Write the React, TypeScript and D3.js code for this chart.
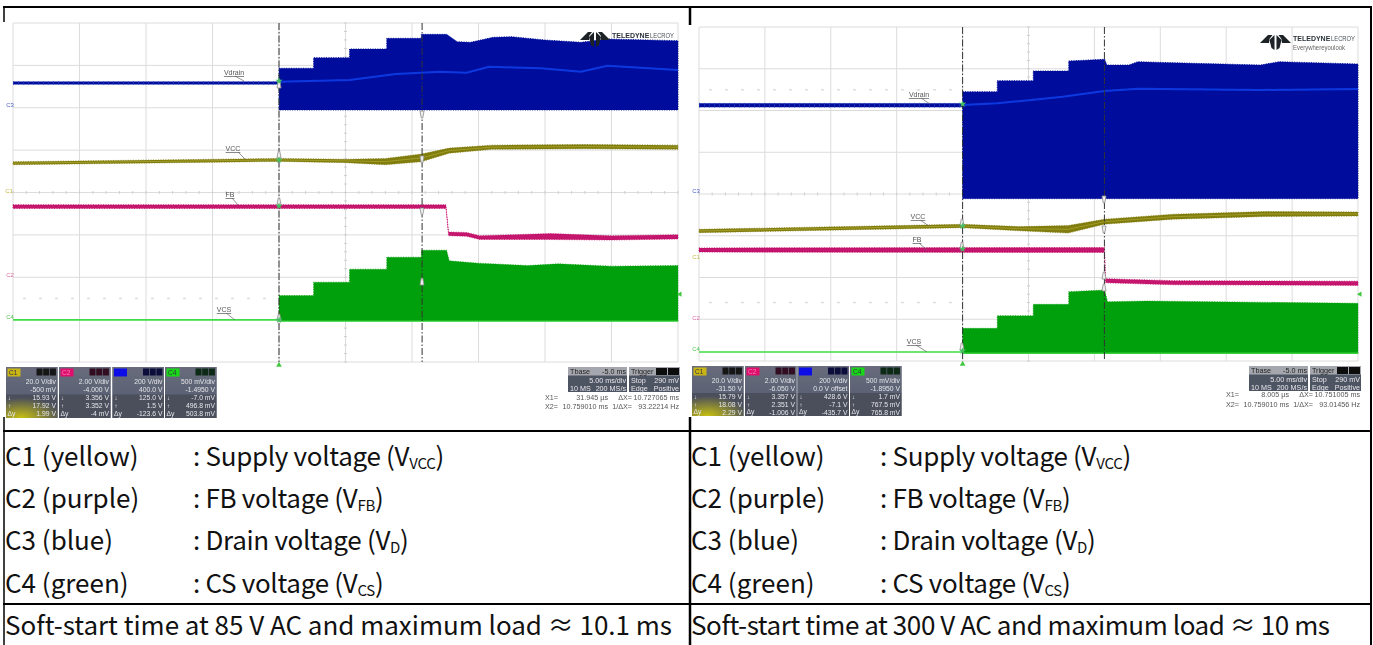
import React from "react";
import * as d3 from "d3";

type P = [number, number];
type B = [number, number, number];

// time in ms, vertical position in screen divisions from top of graticule
const aDrainUpper: P[] = [[0,1.068],[2.6,1.068],[2.6,0.818],[5.3,0.818],[5.3,0.613],[8.1,0.613],[8.1,0.361],[10.7,0.361],[10.7,0.267],[12.6,0.267],[13.4,0.441],[14.4,0.455],[16.1,0.337],[17.5,0.323],[20,0.401],[22.7,0.455],[24.7,0.377],[30,0.417]];
const aDrainLower: P[] = [[0,2.052],[30,2.052]];
const aDrainInner: P[] = [[0,1.384],[5.3,1.344],[8.8,1.203],[12.1,1.149],[14.1,1.172],[15.8,1.031],[19.7,1.068],[22.7,1.149],[24.7,1.007],[30,1.108]];
const aDrainFlat: P[] = [[-20,1.415],[0,1.415]];
const aVcc: B[] = [[-20,3.309,0.035],[0,3.231,0.035],[5,3.255,0.04],[8,3.271,0.075],[10.7,3.184,0.09],[12.8,3.012,0.06],[16,2.932,0.05],[23,2.917,0.05],[30,2.932,0.05]];
const aFb: B[] = [[-20,4.333,0.045],[12.55,4.333,0.045],[12.75,4.976,0.045],[14.1,4.988,0.045],[15.1,5.064,0.045],[20.4,5.04,0.07],[25,5.071,0.05],[30,5.047,0.05]];
const aCsUpper: P[] = [[0,6.432],[2.6,6.432],[2.6,6.116],[5.3,6.116],[5.3,5.809],[8.1,5.809],[8.1,5.526],[10.7,5.526],[10.7,5.361],[12.6,5.361],[12.8,5.613],[15,5.667],[18.7,5.724],[21,5.684],[25,5.738],[30,5.724]];
const aCsLower: P[] = [[0,7.035],[30,7.035]];
const aCsFlat: P[] = [[-20,7.005],[0,7.005]];

const bDrainUpper: P[] = [[0,1.55],[2.63,1.55],[2.63,1.286],[5.36,1.286],[5.36,1.054],[8.05,1.054],[8.05,0.814],[10.78,0.773],[10.95,0.91],[12.6,0.91],[13.3,0.831],[17.5,0.869],[22.6,0.91],[24,0.831],[30,0.886]];
const bDrainLower: P[] = [[0,4.112],[30,4.112]];
const bDrainInner: P[] = [[0,1.868],[2.63,1.828],[7.6,1.67],[10.76,1.533],[13.3,1.478],[22.6,1.509],[30,1.485]];
const bDrainFlat: P[] = [[-20,1.875],[0,1.875]];
const bVcc: B[] = [[-20,4.886,0.04],[0,4.766,0.04],[4.3,4.831,0.05],[8,4.846,0.09],[10.76,4.663,0.06],[16,4.544,0.06],[23,4.479,0.06],[30,4.479,0.05]];
const bFb: B[] = [[-20,5.341,0.05],[10.76,5.341,0.06],[10.85,6.077,0.05],[16,6.125,0.05],[30,6.139,0.05]];
const bCsUpper: P[] = [[0,7.217],[2.63,7.217],[2.63,6.915],[5.36,6.915],[5.36,6.642],[8.05,6.642],[8.05,6.34],[10.78,6.3],[11,6.58],[14,6.563],[30,6.618]];
const bCsLower: P[] = [[0,7.816],[30,7.816]];
const bCsFlat: P[] = [[-20,7.784],[0,7.784]];

const aReadouts = [
  ["C1", "20.0 V/div", "-500 mV", "15.93 V", "17.92 V", "1.99 V"],
  ["C2", "2.00 V/div", "-4.000 V", "3.356 V", "3.352 V", "-4 mV"],
  ["C3", "200 V/div", "400.0 V", "125.0 V", "1.5 V", "-123.6 V"],
  ["C4", "500 mV/div", "-1.4950 V", "-7.0 mV", "496.8 mV", "503.8 mV"],
];
const bReadouts = [
  ["C1", "20.0 V/div", "-31.50 V", "15.79 V", "18.08 V", "2.29 V"],
  ["C2", "2.00 V/div", "-6.050 V", "3.357 V", "2.351 V", "-1.006 V"],
  ["C3", "200 V/div", "0.0 V offset", "428.6 V", "-7.1 V", "-435.7 V"],
  ["C4", "500 mV/div", "-1.8950 V", "1.7 mV", "767.5 mV", "765.8 mV"],
];
const chipColors = ["#c9b512", "#e0106e", "#1010e8", "#18d818"];
const aCursor = ["X1=", "31.945 µs", "ΔX=", "10.727065 ms", "X2=", "10.759010 ms", "1/ΔX=", "93.22214 Hz"];
const bCursor = ["X1=", "8.005 µs", "ΔX=", "10.751005 ms", "X2=", "10.759010 ms", "1/ΔX=", "93.01456 Hz"];

const legendNames = ["C1 (yellow)", "C2 (purple)", "C3 (blue)", "C4 (green)"];
const legendDesc = [": Supply voltage (V", ": FB voltage (V", ": Drain voltage (V", ": CS voltage (V"];
const legendSubs = ["VCC", "FB", "D", "CS"];
const captions = ["Soft-start time at 85 V AC and maximum load ≈ 10.1 ms", "Soft-start time at 300 V AC and maximum load ≈ 10 ms"];

const xDivs = d3.range(0, 11);
const yDivs = d3.range(0, 9);
const centerTicks = d3.range(0, 50.01, 1);
const centerTicksY = d3.range(0, 8.01, 0.2);

const BLUE = "#000f9c";
const OLIVE = "#807c0c";
const MAGENTA = "#c4126c";
const GREEN = "#01a00a";
const SANS = "'Liberation Sans', Arial, sans-serif";
const CJK = "'Noto Sans CJK JP', 'Noto Sans', sans-serif";

function fuzzArea(x: any, y: any, up: P[], low: P[]) {
  return d3.area<P>().x((d) => x(d[0])).y0(() => y(low[0][1])).y1((d) => y(d[1]))(up) as string;
}
function band(x: any, y: any, d: B[]) {
  return d3.area<B>().x((p) => x(p[0])).y0((p) => y(p[1] + p[2])).y1((p) => y(p[1] - p[2]))(d) as string;
}

function Pin({ x, y, flip }: { x: number; y: number; flip?: boolean }) {
  const s = flip ? -1 : 1;
  return (
    <g stroke="#8a8a8a" strokeWidth={0.8} fill="#f0f0f0">
      <path d={`M${x - 2},${y} L${x + 2},${y} L${x + 1.5},${y + 3 * s} L${x + 0.7},${y + 7 * s} L${x - 0.7},${y + 7 * s} L${x - 1.5},${y + 3 * s} Z`} />
    </g>
  );
}

function Logo({ x, y, w, sub }: { x: number; y: number; w: number; sub: boolean }) {
  const m = w / 2;
  return (
    <g>
      <path d={`M${x},${y + 8} L${x + 8},${y} L${x + m - 3},${y} L${x + m - 6},${y + 4} L${x + 9},${y + 8} Z`} fill="#1a2226" />
      <path d={`M${x + w},${y + 8} L${x + w - 8},${y} L${x + m + 3},${y} L${x + m + 6},${y + 4} L${x + w - 9},${y + 8} Z`} fill="#1a2226" />
      <path d={`M${x + m - 6},${y + 5} L${x + m - 1},${y} L${x + m - 1},${y + 11} L${x + m - 1},${y + 15} L${x + m - 4},${y + 13} Z`} fill="#1a2226" />
      <path d={`M${x + m + 6},${y + 5} L${x + m + 1},${y} L${x + m + 1},${y + 11} L${x + m + 1},${y + 15} L${x + m + 4},${y + 13} Z`} fill="#1a2226" />
      <text x={x + w + 2} y={y + 6} fontFamily={SANS} fontSize={7} fontWeight="bold" fill="#2a3238">TELEDYNE</text>
      <text x={x + w + 40} y={y + 6} fontFamily={SANS} fontSize={7} fill="#4a5258" textLength={24} lengthAdjust="spacingAndGlyphs">LECROY</text>
      {sub && (
        <text x={x + w + 2} y={y + 14.5} fontFamily={SANS} fontSize={7} fill="#666" textLength={52} lengthAdjust="spacingAndGlyphs">Everywhereyoulook</text>
      )}
    </g>
  );
}

function Readout({ x, y, w, h, vals, color, idx, id }: any) {
  return (
    <g>
      <rect x={x} y={y} width={w} height={h} fill="#5b6070" />
      <rect x={x} y={y} width={w} height={h * 0.54} fill={`url(#${id}t)`} />
      <rect x={x} y={y + h * 0.54} width={w} height={h * 0.46} fill="#4b4f5c" />
      {idx === 0 && <rect x={x} y={y + h * 0.5} width={w} height={h * 0.5} fill={`url(#${id}g)`} />}
      <rect x={x + 1.5} y={y + 1.5} width={13} height={8} fill={color} />
      {idx !== 2 && <text x={x + 3} y={y + 8} fontFamily={SANS} fontSize={6.5} fill={idx === 1 ? "#f080b0" : "#334"}>{vals[0]}</text>}
      {[0, 1, 2].map((k) => (
        <rect key={k} x={x + w - 21 + k * 6.7} y={y + 1.5} width={6} height={7} fill={idx === 1 ? "#301020" : idx === 2 ? "#0a0a3a" : idx === 3 ? "#0a2a12" : "#141414"} />
      ))}
      {vals.slice(1).map((v: string, i: number) => (
        <text key={i} x={x + w - 1.5} y={y + 16.5 + i * 8.1} textAnchor="end" fontFamily={SANS} fontSize={6.8} fill="#e4e6ea">{v}</text>
      ))}
      <text x={x + 2} y={y + 33} fontFamily={SANS} fontSize={6} fill="#e4e6ea">↓</text>
      <text x={x + 2} y={y + 41} fontFamily={SANS} fontSize={6} fill="#e4e6ea">↑</text>
      <text x={x + 1.5} y={y + h - 2.5} fontFamily={SANS} fontSize={6.8} fill="#e4e6ea">Δy</text>
    </g>
  );
}

function Timebase({ x, y, cursor, rows }: any) {
  const t = { fontFamily: SANS, fontSize: 7.2 };
  const cols = [[-23, "start"], [40, "end"], [64, "end"], [111, "end"]];
  return (
    <g>
      <rect x={x} y={y} width={59} height={25} fill="#4e5464" />
      <rect x={x} y={y} width={59} height={8.5} fill="#a4a7ad" />
      <rect x={x + 61} y={y} width={51} height={25} fill="#4e5464" />
      <rect x={x + 61} y={y} width={51} height={8.5} fill="#a4a7ad" />
      <rect x={x + 88} y={y + 1} width={11} height={7} fill="#111" />
      <rect x={x + 100} y={y + 1} width={11} height={7} fill="#111" />
      <text x={x + 2} y={y + 7} {...t} fill="#222">Tbase</text>
      <text x={x + 58} y={y + 7} {...t} fill="#222" textAnchor="end">-5.0 ms</text>
      <text x={x + 58} y={y + 15.5} {...t} fill="#e8e8ec" textAnchor="end">5.00 ms/div</text>
      <text x={x + 2} y={y + 23.5} {...t} fill="#e8e8ec">10 MS</text>
      <text x={x + 58} y={y + 23.5} {...t} fill="#e8e8ec" textAnchor="end">200 MS/s</text>
      <text x={x + 63} y={y + 7} {...t} fill="#222">Trigger</text>
      <text x={x + 63} y={y + 15.5} {...t} fill="#e8e8ec">Stop</text>
      <text x={x + 111} y={y + 15.5} {...t} fill="#e8e8ec" textAnchor="end">290 mV</text>
      <text x={x + 63} y={y + 23.5} {...t} fill="#e8e8ec">Edge</text>
      <text x={x + 111} y={y + 23.5} {...t} fill="#e8e8ec" textAnchor="end">Positive</text>
      {cursor.map((c: string, i: number) => {
        const col = cols[i % 4] as [number, string];
        return <text key={i} x={x + col[0]} y={rows[i < 4 ? 0 : 1]} {...t} fill="#555" textAnchor={col[1]}>{c}</text>;
      })}
    </g>
  );
}

function Scope(props: any) {
  const { x0, x1, y0, y1, d, cursor2, labels, gndLabels, pins, id, readouts, boxes, boxY, boxH, tbX, tbY, cursorTxt, tbRows, logo, dots } = props;
  const x = d3.scaleLinear().domain([-20, 30]).range([x0, x1]);
  const y = d3.scaleLinear().domain([0, 8]).range([y0, y1]);
  const xd = d3.scaleLinear().domain([0, 10]).range([x0, x1]);
  const lineP = d3.line<P>().x((p) => x(p[0])).y((p) => y(p[1]));
  return (
    <g>
      <g filter="url(#soft)">
        {xDivs.map((i) => <line key={i} x1={xd(i)} x2={xd(i)} y1={y0} y2={y1} stroke="#dcdcdc" />)}
        {yDivs.map((i) => <line key={i} x1={x0} x2={x1} y1={y(i)} y2={y(i)} stroke="#dcdcdc" />)}
        {centerTicks.map((i) => <line key={i} x1={x0 + (i * (x1 - x0)) / 50} x2={x0 + (i * (x1 - x0)) / 50} y1={y(4) - 1.5} y2={y(4) + 1.5} stroke="#cfcfcf" />)}
        {centerTicksY.map((i) => <line key={i} x1={xd(5) - 1.5} x2={xd(5) + 1.5} y1={y(i)} y2={y(i)} stroke="#cfcfcf" />)}
        {dots.map((v: number) => <line key={v} x1={x0 + 10} x2={x(0) - 8} y1={y(v)} y2={y(v)} stroke="#dedede" strokeDasharray="3 13" strokeWidth={1.5} />)}

        <path d={fuzzArea(x, y, d.drainU, d.drainL)} fill={BLUE} stroke={BLUE} strokeWidth={1} strokeDasharray="1 1.4" />
        <path d={lineP(d.drainF) as string} fill="none" stroke={BLUE} strokeWidth={props.flatW} />
        <path d={lineP(d.drainF) as string} fill="none" stroke="#2a45c8" strokeWidth={props.flatW + 1} strokeDasharray="1 4" opacity={0.6} />
        <path d={lineP(d.drainI) as string} fill="none" stroke="#0c38e0" strokeWidth={2} />

        <Logo {...logo} />

        <path d={band(x, y, d.vcc)} fill={OLIVE} stroke={OLIVE} strokeWidth={0.8} strokeDasharray="1 1.5" />
        <path d={lineP(d.vcc.map((p: B) => [p[0], p[1]])) as string} fill="none" stroke="#a8a530" strokeWidth={0.8} />

        <path d={band(x, y, d.fb)} fill={MAGENTA} stroke={MAGENTA} strokeWidth={0.8} strokeDasharray="1 1.5" />

        <path d={fuzzArea(x, y, d.csU, d.csL)} fill={GREEN} stroke={GREEN} strokeWidth={0.8} strokeDasharray="1 1.5" />
        <path d={lineP(d.csL) as string} fill="none" stroke="#35d23c" strokeWidth={1.4} />
        <path d={lineP(d.csF) as string} fill="none" stroke="#3fdc45" strokeWidth={1.6} />

        <line x1={x(0)} x2={x(0)} y1={y0} y2={y1} stroke="#333" strokeDasharray="7 2 1.5 2" />
        <line x1={x(cursor2)} x2={x(cursor2)} y1={y0} y2={y1} stroke="#333" strokeDasharray="7 2 1.5 2" />

        {pins.map((p: any, i: number) => <Pin key={i} x={p[0]} y={p[1]} flip={p[2]} />)}

        {labels.map((l: any) => (
          <g key={l[0]}>
            <text x={l[1]} y={l[2]} textAnchor="middle" fontFamily={SANS} fontSize={7} fill="#555" textDecoration="underline">{l[0]}</text>
            <line x1={l[3]} y1={l[4]} x2={l[5]} y2={l[6]} stroke="#666" strokeWidth={0.7} />
          </g>
        ))}
        {gndLabels.map((g: any) => (
          <text key={g[0]} x={g[1]} y={g[2]} textAnchor="middle" fontFamily={SANS} fontSize={6} fill={g[3]}>{g[0]}</text>
        ))}
        {props.stars.map((s: number, i: number) => (
          <path key={i} d={d3.symbol(d3.symbolStar, 16)() as string} transform={`translate(${x(0)},${s})`} fill="#45c060" />
        ))}
        <path d={d3.symbol(d3.symbolTriangle, 14)() as string} transform={`translate(${x(0)},${y1 + 3})`} fill="#40c840" />
        <path d={d3.symbol(d3.symbolTriangle, 12)() as string} transform={`translate(${x1 + 2},${y(6.4)}) rotate(-90)`} fill="#40c840" />

        {readouts.map((vals: string[], i: number) => (
          <Readout key={i} x={boxes[i]} y={boxY} w={51.5} h={boxH} vals={vals} color={chipColors[i]} idx={i} id={id} />
        ))}
        <Timebase x={tbX} y={tbY} cursor={cursorTxt} rows={tbRows} />
      </g>
    </g>
  );
}

const ROW_Y = [466, 508, 550, 593];
const TXT = 26;

function TableText({ x, colon }: { x: number; colon: number }) {
  return (
    <g fontFamily={CJK} fontSize={TXT} fill="#111">
      {legendNames.map((n, i) => (
        <g key={n}>
          <text x={x} y={ROW_Y[i]}>{n}</text>
          <text x={colon} y={ROW_Y[i]} letterSpacing={-0.3}>
            {legendDesc[i]}
            <tspan fontSize={15} dy={3}>{legendSubs[i]}</tspan>
            <tspan dy={-3}>)</tspan>
          </text>
        </g>
      ))}
    </g>
  );
}

export default function App() {
  const a = { drainU: aDrainUpper, drainL: aDrainLower, drainI: aDrainInner, drainF: aDrainFlat, vcc: aVcc, fb: aFb, csU: aCsUpper, csL: aCsLower, csF: aCsFlat };
  const b = { drainU: bDrainUpper, drainL: bDrainLower, drainI: bDrainInner, drainF: bDrainFlat, vcc: bVcc, fb: bFb, csU: bCsUpper, csL: bCsLower, csF: bCsFlat };
  return (
    <svg width={1373} height={645} style={{ position: "absolute", left: 0, top: 0, background: "#fff" }}>
      <defs>
        <filter id="soft" x="-2%" y="-2%" width="104%" height="104%"><feGaussianBlur stdDeviation="0.45" /></filter>
        <linearGradient id="at" x1="0" y1="0" x2="0" y2="1"><stop offset="0" stopColor="#686c7c" /><stop offset="1" stopColor="#5c6274" /></linearGradient>
        <linearGradient id="bt" x1="0" y1="0" x2="0" y2="1"><stop offset="0" stopColor="#686c7c" /><stop offset="1" stopColor="#5c6274" /></linearGradient>
        <radialGradient id="ag" cx="0.3" cy="1" r="0.8"><stop offset="0" stopColor="#c8c010" /><stop offset="1" stopColor="#c8c010" stopOpacity="0" /></radialGradient>
        <radialGradient id="bg" cx="0.3" cy="1" r="0.8"><stop offset="0" stopColor="#c8c010" /><stop offset="1" stopColor="#c8c010" stopOpacity="0" /></radialGradient>
      </defs>

      <Scope
        id="a" x0={13} x1={678} y0={23} y1={362} d={a} cursor2={10.76} flatW={3}
        dots={[6.5]}
        logo={{ x: 580, y: 32, w: 30, sub: false }}
        labels={[["Vdrain", 234, 75, 235, 76, 244, 81], ["VCC", 233, 151, 238, 152, 246, 160], ["FB", 230, 197, 232, 198, 238, 205], ["VCS", 224, 312, 226, 313, 235, 320]]}
        gndLabels={[["C3", 10, 107, "#5060c0"], ["C1", 9, 193, "#c0b840"], ["C2", 10, 277, "#d86aa0"], ["C4", 10, 319, "#50c050"]]}
        pins={[[279, 88, true], [279, 158, true], [279, 205, true], [279, 321, true], [422, 111], [422, 156], [422, 208], [422, 285, true]]}
        stars={[81, 160, 206, 320]}
        readouts={aReadouts} boxes={[6, 59, 112.5, 165]} boxY={367} boxH={51}
        tbX={568} tbY={367} cursorTxt={aCursor} tbRows={[400, 409]}
      />
      <Scope
        id="b" x0={699} x1={1358} y0={27} y1={361} d={b} cursor2={10.76} flatW={4}
        dots={[1.5, 6.6]}
        logo={{ x: 1260, y: 35, w: 31, sub: true }}
        labels={[["Vdrain", 919, 97, 921, 98, 930, 104], ["VCC", 918, 219, 920, 220, 929, 226], ["FB", 917, 242, 919, 243, 927, 250], ["VCS", 914, 344, 916, 345, 927, 352]]}
        gndLabels={[["C3", 696, 193, "#5060c0"], ["C1", 696, 259, "#c0b840"], ["C2", 696, 320, "#d86aa0"], ["C4", 696, 351, "#50c050"]]}
        pins={[[962, 226, true], [962, 249, true], [962, 350, true], [1104, 196], [1104, 226], [1104, 279, true], [1104, 291, true]]}
        stars={[104, 226, 249, 351]}
        readouts={bReadouts} boxes={[692, 745, 797.5, 850]} boxY={366} boxH={50}
        tbX={1249} tbY={366} cursorTxt={bCursor} tbRows={[397, 407]}
      />

      {/* table rules */}
      <g stroke="#000" fill="none">
        <line x1={3} x2={1372} y1={7} y2={7} strokeWidth={2} />
        <line x1={4} x2={4} y1={6} y2={22} strokeWidth={1.5} />
        <line x1={690} x2={690} y1={6} y2={25} strokeWidth={2.5} />
        <line x1={4} x2={4} y1={417} y2={645} strokeWidth={1.5} />
        <line x1={690} x2={690} y1={417} y2={645} strokeWidth={2.5} />
        <line x1={3} x2={1372} y1={431} y2={431} strokeWidth={2} />
        <line x1={3} x2={1372} y1={604} y2={604} strokeWidth={2} />
        <line x1={1371} x2={1371} y1={6} y2={645} strokeWidth={2} />
      </g>
      <TableText x={5} colon={193} />
      <TableText x={691} colon={880} />
      <text x={5} y={635} fontFamily={CJK} fontSize={TXT} fill="#111" textLength={667} lengthAdjust="spacing">{captions[0]}</text>
      <text x={691} y={635} fontFamily={CJK} fontSize={TXT} fill="#111" textLength={639} lengthAdjust="spacing">{captions[1]}</text>
    </svg>
  );
}
